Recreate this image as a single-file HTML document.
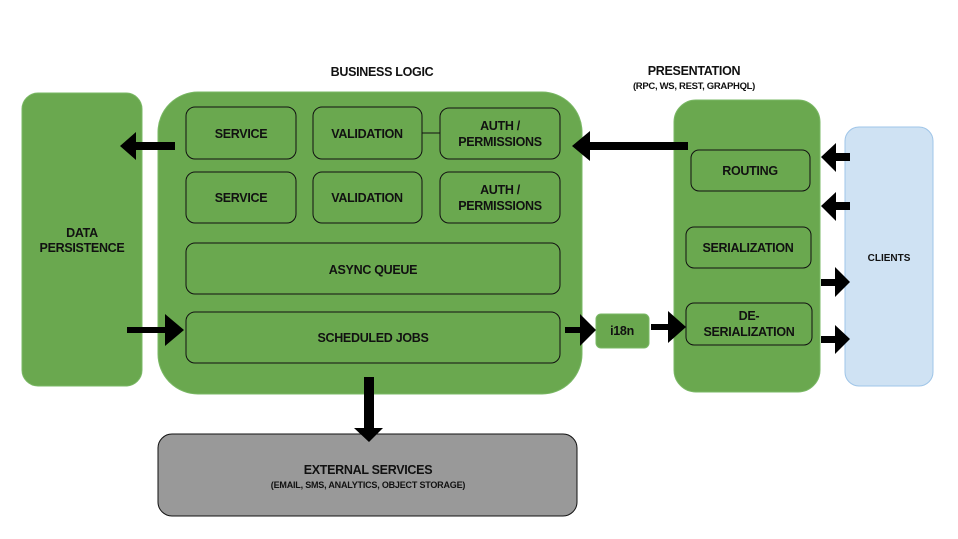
<!DOCTYPE html>
<html><head><meta charset="utf-8"><style>
html,body{margin:0;padding:0;background:#fff;}
svg{display:block;}
text{font-family:"Liberation Sans",sans-serif;font-weight:bold;fill:#111;text-anchor:middle;}
.t{font-size:12.5px;letter-spacing:-0.3px;}
.g{fill:#6aa84f;stroke:#7ab865;stroke-width:1;}
.b{fill:#6aa84f;stroke:#111;stroke-width:1;}
</style></head><body>
<svg width="958" height="539" viewBox="0 0 958 539" xmlns="http://www.w3.org/2000/svg">
<rect width="958" height="539" fill="#fff"/>
<text x="382" y="76" class="t">BUSINESS LOGIC</text>
<text x="694" y="75" class="t">PRESENTATION</text>
<text x="694" y="89" style="font-size:9.5px;letter-spacing:-0.3px">(RPC, WS, REST, GRAPHQL)</text>

<rect x="22" y="93" width="120" height="293" rx="16" class="g"/>
<text x="82" y="237" class="t">DATA</text>
<text x="82" y="252" class="t">PERSISTENCE</text>

<rect x="158" y="92" width="424" height="302" rx="40" class="g"/>
<rect x="186" y="107" width="110" height="52" rx="9" class="b"/>
<text x="241" y="138" class="t">SERVICE</text>
<rect x="313" y="107" width="109" height="52" rx="9" class="b"/>
<text x="367" y="138" class="t">VALIDATION</text>
<line x1="422" y1="133" x2="440" y2="133" stroke="#111"/>
<rect x="440" y="108" width="120" height="51" rx="9" class="b"/>
<text x="500" y="130" class="t">AUTH /</text>
<text x="500" y="146" class="t">PERMISSIONS</text>
<rect x="186" y="172" width="110" height="51" rx="9" class="b"/>
<text x="241" y="202" class="t">SERVICE</text>
<rect x="313" y="172" width="109" height="51" rx="9" class="b"/>
<text x="367" y="202" class="t">VALIDATION</text>
<rect x="440" y="172" width="120" height="51" rx="9" class="b"/>
<text x="500" y="194" class="t">AUTH /</text>
<text x="500" y="210" class="t">PERMISSIONS</text>
<rect x="186" y="243" width="374" height="51" rx="9" class="b"/>
<text x="373" y="274" class="t">ASYNC QUEUE</text>
<rect x="186" y="312" width="374" height="51" rx="9" class="b"/>
<text x="373" y="342" class="t">SCHEDULED JOBS</text>

<rect x="596" y="314" width="53" height="34" rx="5" class="g"/>
<text x="622" y="335" class="t">i18n</text>

<rect x="674" y="100" width="146" height="292" rx="22" class="g"/>
<rect x="691" y="150" width="119" height="41" rx="8" class="b"/>
<text x="750" y="175" class="t">ROUTING</text>
<rect x="686" y="227" width="125" height="41" rx="8" class="b"/>
<text x="748" y="252" class="t">SERIALIZATION</text>
<rect x="686" y="303" width="126" height="42" rx="8" class="b"/>
<text x="749" y="320" class="t">DE-</text>
<text x="749" y="336" class="t">SERIALIZATION</text>

<rect x="845" y="127" width="88" height="259" rx="14" fill="#cfe2f3" stroke="#9fc5e8"/>
<text x="889" y="261" style="font-size:10px">CLIENTS</text>

<rect x="158" y="434" width="419" height="82" rx="14" fill="#999" stroke="#111"/>
<text x="368" y="474" class="t">EXTERNAL SERVICES</text>
<text x="368" y="488" style="font-size:9px;letter-spacing:-0.2px">(EMAIL, SMS, ANALYTICS, OBJECT STORAGE)</text>

<g fill="#000">
<!-- left arrow to data persistence -->
<polygon points="175,142 136,142 136,132 120,146 136,160 136,150 175,150"/>
<!-- presentation to auth -->
<polygon points="688,142 590,142 590,131 572,146 590,161 590,150 688,150"/>
<!-- into scheduled jobs -->
<polygon points="127,327 165,327 165,314 184,330 165,346 165,333 127,333"/>
<!-- scheduled jobs to i18n -->
<polygon points="565,327 580,327 580,314 596,330 580,346 580,333 565,333"/>
<!-- i18n to deserialization -->
<polygon points="651,324 668,324 668,311 686,327 668,343 668,330 651,330"/>
<!-- down arrow -->
<polygon points="364,377 374,377 374,428 383,428 369,442 354,428 364,428"/>
<!-- clients arrows -->
<polygon points="850,153 836,153 836,143 821,157 836,172 836,161 850,161"/>
<polygon points="850,202 836,202 836,192 821,206 836,221 836,210 850,210"/>
<polygon points="821,279 835,279 835,267 850,282 835,297 835,286 821,286"/>
<polygon points="821,336 835,336 835,325 850,339 835,354 835,343 821,343"/>
</g>
</svg>
</body></html>
